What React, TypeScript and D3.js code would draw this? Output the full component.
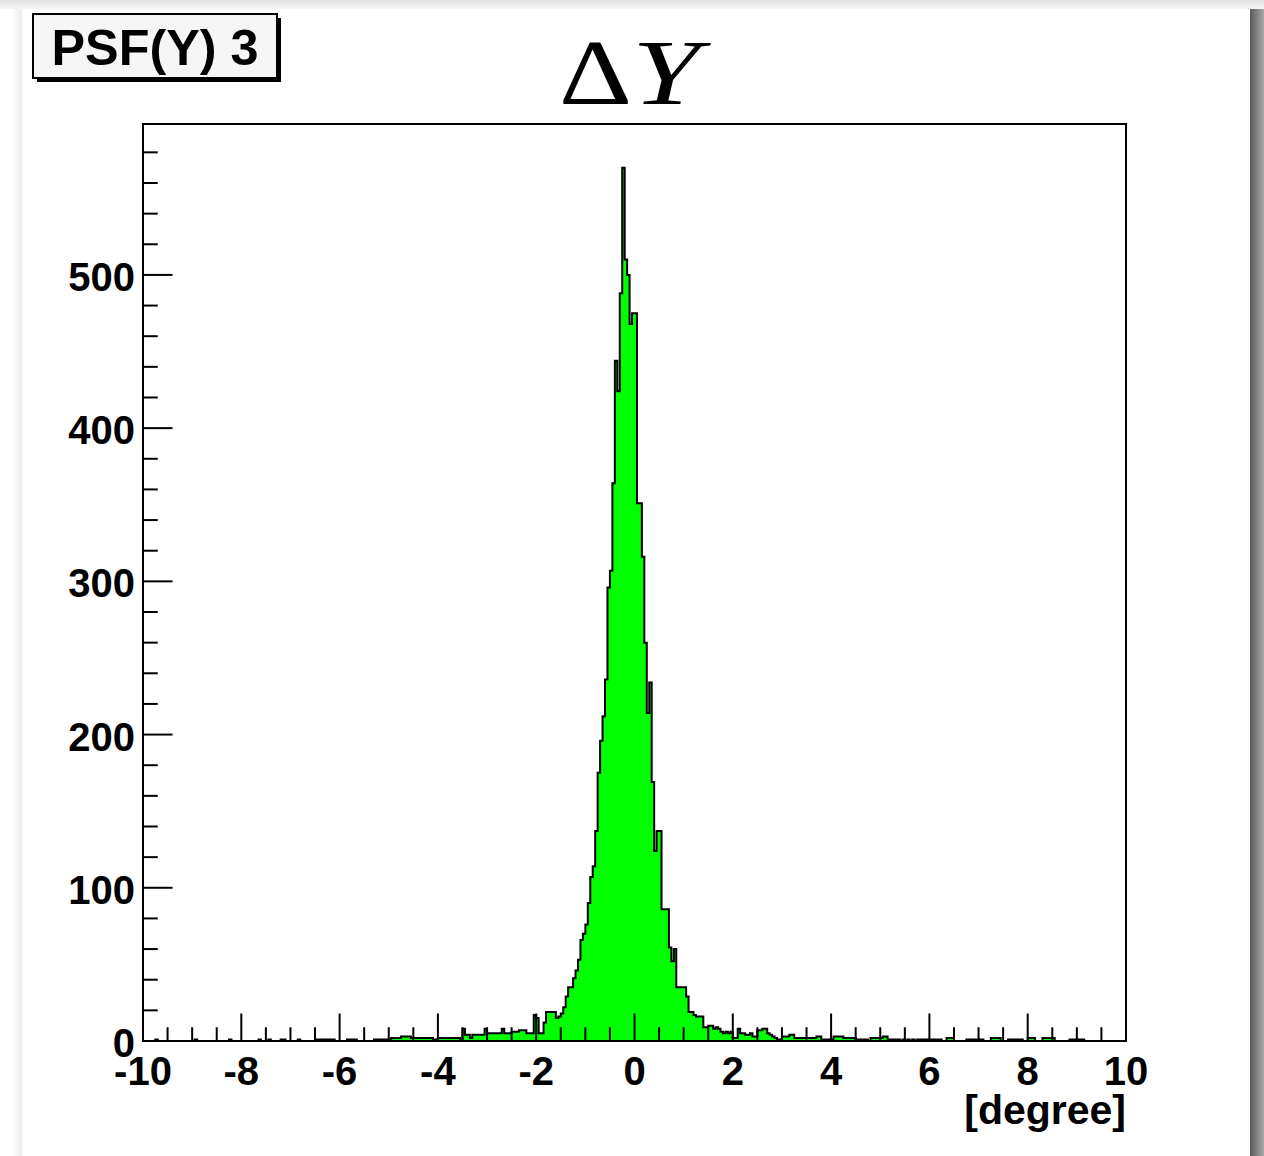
import React from "react";
import * as d3 from "d3";

// Histogram: 400 bins from -10 to 10 degree
const X_MIN = -10;
const X_MAX = 10;
const N_BINS = 400;
const Y_MAX = 598.5;

const countsLeftTail = [
  0,0,0,0,0,1,0,0,0,0, 0,0,0,0,0,0,0,0,0,0,
  0,1,0,0,0,0,0,0,0,0, 0,0,0,0,0,1,0,0,0,0,
  0,0,0,0,0,0,0,1,0,0, 0,1,0,0,0,0,1,1,0,0,
  0,0,0,1,0,0,0,0,0,0, 1,1,1,1,1,1,1,1,0,0,
  0,0,0,1,1,1,1,0,0,0, 0,0,0,0,1,1,1,1,1,1,
  1,2,2,2,2,3,3,3,3,2, 2,2,2,2,2,2,2,2,1,1,
  2,2,2,2,2,2,2,2,2,1, 8,4,4,2,4,4,4,4,4,8,
  5,5,5,5,5,5,8,5,5,5, 6,6,6,7,7,7,5,5,5,17,
];
const countsCore = [
  15,5,5,12,19,19,19,19,15,16, 18,22,29,35,35,41,46,53,66,70,
  76,90,107,114,137,175,196,212,236,296, 307,364,444,424,488,570,510,500,468,475,
  475,351,351,316,260,214,234,169,124,137, 137,86,86,86,61,52,60,35,35,35,
  35,29,19,19,17,16,16,16,9,9, 10,10,8,9,8,6,5,6,5,6,
];
const countsRightTail = [
  2,2,8,5,5,4,4,5,3,3, 7,7,8,8,5,4,3,2,1,1,
  3,3,3,4,4,2,2,2,2,2, 2,2,2,2,3,3,1,1,1,1,
  1,3,3,3,3,2,2,2,2,2, 1,1,1,1,1,0,2,2,2,2,
  2,3,3,1,1,1,1,1,0,1, 0,1,0,1,0,1,1,1,1,1,
  1,1,1,1,1,0,0,2,2,2, 0,0,0,0,0,1,1,1,1,1,
  1,1,0,0,0,2,2,2,2,0, 0,0,1,1,1,1,1,1,0,0,
  2,2,2,0,0,0,2,2,2,2, 2,0,0,0,0,0,0,1,1,1,
  1,1,1,0,0,0,0,0,0,0, 0,0,0,0,0,0,0,0,0,0,
];
const counts = [...countsLeftTail, ...countsCore, ...countsRightTail];

const xTickLabels = ["-10", "-8", "-6", "-4", "-2", "0", "2", "4", "6", "8", "10"];
const yTickLabels = ["0", "100", "200", "300", "400", "500"];

const TITLE_DELTA = "\u0394";
const TITLE_VAR = "Y";
const X_TITLE = "[degree]";
const PAD_LABEL = "PSF(Y) 3";

const W = 1264;
const H = 1156;
const FL = 143, FR = 1126, FT = 124, FB = 1041;
const SANS = "'Liberation Sans', Arial, Helvetica, sans-serif";
const SERIF = "'Liberation Serif', 'Times New Roman', serif";

export default function App() {
  const x = d3.scaleLinear().domain([X_MIN, X_MAX]).range([FL, FR]);
  const y = d3.scaleLinear().domain([0, Y_MAX]).range([FB, FT]);
  const bw = (X_MAX - X_MIN) / N_BINS;

  let outline = `M${x(X_MIN)},${y(0)}`;
  counts.forEach((c, i) => {
    const xl = x(X_MIN + i * bw);
    const xr = x(X_MIN + (i + 1) * bw);
    outline += `L${xl},${y(c)}L${xr},${y(c)}`;
  });
  outline += `L${x(X_MAX)},${y(0)}`;

  const xMinor = d3.range(X_MIN, X_MAX + 0.001, 0.5);
  const xMajor = xTickLabels.map(Number);
  const yMinor = d3.range(0, Y_MAX, 20);
  const yMajor = yTickLabels.map(Number);

  const xTickLen = 27.5;
  const yTickLen = 29.5;

  return (
    <svg width={W} height={H} style={{ position: "absolute", left: 0, top: 0 }}>
      <defs>
        <linearGradient id="topShade" x1="0" y1="0" x2="0" y2="1">
          <stop offset="0" stopColor="#e2e2e2" />
          <stop offset="1" stopColor="#f6f6f6" />
        </linearGradient>
        <linearGradient id="rightShade" x1="0" y1="0" x2="1" y2="0">
          <stop offset="0" stopColor="#5c5c5c" />
          <stop offset="1" stopColor="#a8a8a8" />
        </linearGradient>
        <linearGradient id="leftShade" x1="0" y1="0" x2="1" y2="0">
          <stop offset="0" stopColor="#ffffff" />
          <stop offset="1" stopColor="#ececec" />
        </linearGradient>
      </defs>
      <rect x={0} y={0} width={W} height={H} fill="#ffffff" />
      <rect x={0} y={0} width={W} height={9} fill="url(#topShade)" />
      <rect x={12} y={9} width={10} height={H - 9} fill="url(#leftShade)" />
      <rect x={1250} y={9} width={14} height={H - 9} fill="url(#rightShade)" />
      <rect x={22} y={9} width={1228} height={H - 9} fill="#ffffff" />

      {/* histogram */}
      <path d={outline + "Z"} fill="#00ff00" stroke="none" />
      <path d={outline} fill="none" stroke="#000" strokeWidth={2} strokeLinejoin="miter" />

      {/* frame */}
      <rect x={FL} y={FT} width={FR - FL} height={FB - FT} fill="none" stroke="#000" strokeWidth={2} />

      {/* x ticks */}
      {xMinor.map((v, i) => {
        const major = xMajor.some((m) => Math.abs(m - v) < 1e-6);
        const len = major ? xTickLen : xTickLen / 2;
        return (
          <line key={"xt" + i} x1={x(v)} x2={x(v)} y1={FB} y2={FB - len} stroke="#000" strokeWidth={2} />
        );
      })}
      {/* y ticks */}
      {yMinor.map((v, i) => {
        const major = yMajor.some((m) => Math.abs(m - v) < 1e-6);
        const len = major ? yTickLen : yTickLen / 2;
        return (
          <line key={"yt" + i} x1={FL} x2={FL + len} y1={y(v)} y2={y(v)} stroke="#000" strokeWidth={2} />
        );
      })}

      {/* y labels */}
      {yTickLabels.map((t, i) => (
        <text key={"yl" + i} x={135} y={y(yMajor[i]) + 16} textAnchor="end" fontFamily={SANS} fontWeight="bold" fontSize={40} fill="#000">
          {t}
        </text>
      ))}
      {/* x labels */}
      {xTickLabels.map((t, i) => (
        <text key={"xl" + i} x={x(xMajor[i])} y={1085} textAnchor="middle" fontFamily={SANS} fontWeight="bold" fontSize={40} fill="#000">
          {t}
        </text>
      ))}
      <text x={FR} y={1124} textAnchor="end" fontFamily={SANS} fontWeight="bold" fontSize={41} fill="#000">
        {X_TITLE}
      </text>

      {/* title */}
      <text x={559} y={104} fontFamily={SERIF} fontSize={94} fill="#000" textLength={73} lengthAdjust="spacingAndGlyphs">
        {TITLE_DELTA}
      </text>
      <text x={632} y={104} fontFamily={SERIF} fontStyle="italic" fontSize={94} fill="#000" textLength={68} lengthAdjust="spacingAndGlyphs">
        {TITLE_VAR}
      </text>

      {/* pad label box */}
      <rect x={37} y={18} width={244} height={64} fill="#000" />
      <rect x={33} y={14} width={244} height={64} fill="#f6f6f6" stroke="#000" strokeWidth={2} />
      <text x={155} y={65} textAnchor="middle" fontFamily={SANS} fontWeight="bold" fontSize={50} fill="#000" textLength={207} lengthAdjust="spacingAndGlyphs">
        {PAD_LABEL}
      </text>
    </svg>
  );
}
